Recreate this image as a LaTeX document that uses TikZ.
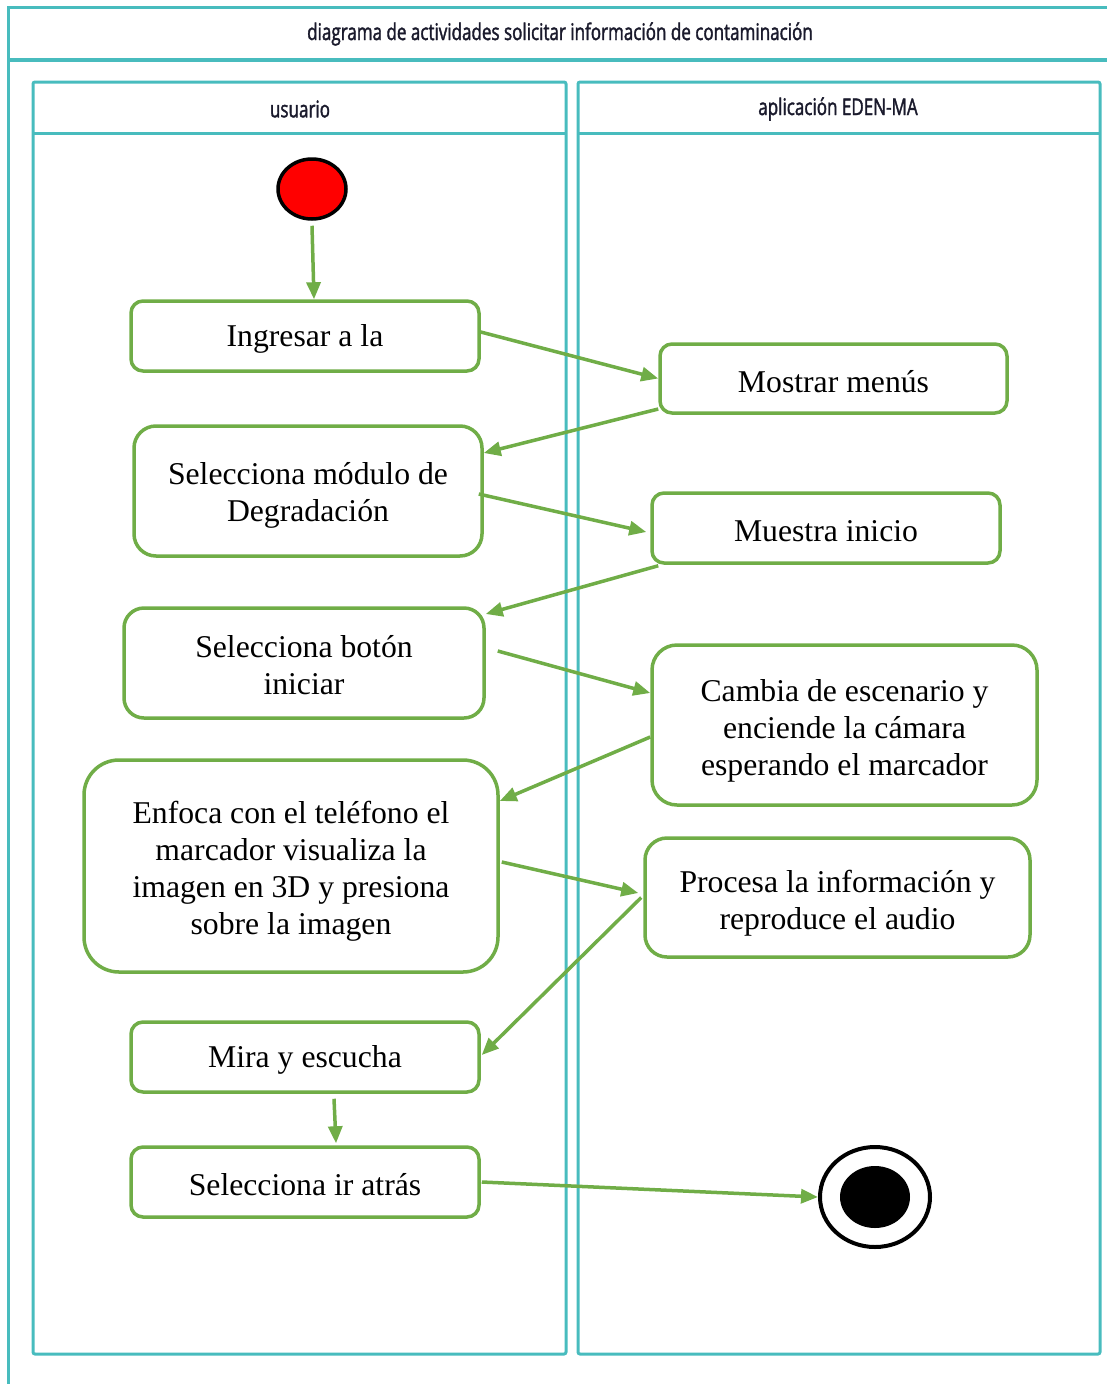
\documentclass[tikz,border=0pt]{standalone}
\usepackage{fontspec}
\setmainfont{Liberation Serif}
\newfontfamily\hdr[FakeStretch=0.74,FakeBold=1.6]{Open Sans}
\usetikzlibrary{arrows.meta,calc,shapes.geometric}
\definecolor{teal}{RGB}{72,188,190}
\definecolor{grn}{RGB}{112,173,71}
\definecolor{hdrtxt}{RGB}{26,26,44}
\newcommand{\firstup}[1]{\rule{0pt}{#1pt}}
\tikzset{
  lane/.style={draw=teal, line width=3pt, rounded corners=2pt},
  act/.style={draw=grn, line width=3.5pt, fill=white, align=center, inner sep=0pt,
    font=\fontsize{31.7}{37}\selectfont, execute at begin node={\rule{0pt}{28pt}}},
  arr/.style={draw=grn, line width=3.5pt, -{Triangle[length=17pt,width=14pt]}},
  hdrlabel/.style={text=hdrtxt, font=\hdr\fontsize{23}{26}\selectfont, inner sep=0pt},
}
\begin{document}
\begin{tikzpicture}[x=1pt,y=-1pt]
\useasboundingbox (0,0) rectangle (1107,1384);
% outer frame
\draw[teal, line width=3pt] (1120,7) -- (8,7) -- (8,1395);
\draw[teal, line width=3.5pt] (8,60) -- (1120,60);
\node[hdrlabel] (title) at (560,34) {diagrama de actividades solicitar información de contaminación};
% lanes
\draw[lane] (33,82) rectangle (566,1354);
\draw[teal, line width=3pt] (33,133) -- (566,133);
\draw[lane] (578,82) rectangle (1100,1354);
\draw[teal, line width=3pt] (578,133) -- (1100,133);
\node[hdrlabel] (usr) at (300,109) {usuario};
\node[hdrlabel] (app) at (838,109) {aplicación EDEN-MA};
% start / end
\node[draw=black, fill=red, line width=3.5pt, ellipse, minimum width=68pt, minimum height=60pt, inner sep=0pt] (start) at (312,189) {};
\node[draw=black, fill=white, line width=4pt, ellipse, minimum width=110pt, minimum height=100pt, inner sep=0pt] (endn) at (875,1197) {};
\node[fill=black, ellipse, minimum width=70pt, minimum height=62pt, inner sep=0pt] (endin) at (875,1197) {};
% activities
\node[act, rounded corners=12pt, minimum width=348pt, minimum height=70pt] (ingresar) at (305,336) {Ingresar a la};
\node[act, rounded corners=12pt, minimum width=347pt, minimum height=69pt] (mostrar) at (833.5,378.5) {Mostrar menús};
\node[act, rounded corners=22pt, minimum width=348pt, minimum height=130pt] (modulo) at (308,491) {\firstup{30}Selecciona módulo de\\Degradación};
\node[act, rounded corners=12pt, minimum width=348pt, minimum height=70pt] (muestra) at (826,528) {Muestra inicio};
\node[act, rounded corners=20pt, minimum width=360pt, minimum height=110pt] (boton) at (304,663) {\firstup{26}Selecciona botón\\iniciar};
\node[act, rounded corners=25pt, minimum width=385pt, minimum height=160pt] (cambia) at (844.5,725) {\firstup{34}Cambia de escenario y\\enciende la cámara\\esperando el marcador};
\node[act, rounded corners=35pt, minimum width=414pt, minimum height=212pt] (enfoca) at (291,866) {\firstup{32}Enfoca con el teléfono el\\marcador visualiza la\\imagen en 3D y presiona\\sobre la imagen};
\node[act, rounded corners=22pt, minimum width=385pt, minimum height=119pt] (procesa) at (837.5,897.5) {\firstup{34}Procesa la información y\\reproduce el audio};
\node[act, rounded corners=12pt, minimum width=348pt, minimum height=70pt] (mira) at (305,1057) {Mira y escucha};
\node[act, rounded corners=12pt, minimum width=348pt, minimum height=70pt] (atras) at (305,1182) {Selecciona ir atrás};
% flows
\draw[arr] ($(start.south)+(0,5)$) -- ($(ingresar.north)+(9,0)$);
\draw[arr] ($(ingresar.east)+(0,-4)$) -- (mostrar.west);
\draw[arr] ($(mostrar.west)+(0,30.5)$) -- ($(modulo.east)+(0,-38)$);
\draw[arr] ($(modulo.east)+(-5,3)$) -- ($(muestra.west)+(-4,4)$);
\draw[arr] ($(muestra.south west)+(8,1)$) -- ($(boton.east)+(0,-49)$);
\draw[arr] ($(boton.east)+(12,-12)$) -- ($(cambia.west)+(0,-32)$);
\draw[arr] ($(cambia.west)+(0,12)$) -- ($(enfoca.east)+(0,-65)$);
\draw[arr] ($(enfoca.east)+(2,-4)$) -- ($(procesa.west)+(-5,-4.5)$);
\draw[arr] ($(procesa.west)+(-2,0)$) -- ($(mira.east)+(1,-2)$);
\draw[arr] ($(mira.south)+(29,5)$) -- ($(atras.north)+(31,-2)$);
\draw[arr] ($(atras.east)+(1,0)$) -- (endn.west);
\end{tikzpicture}
\end{document}
